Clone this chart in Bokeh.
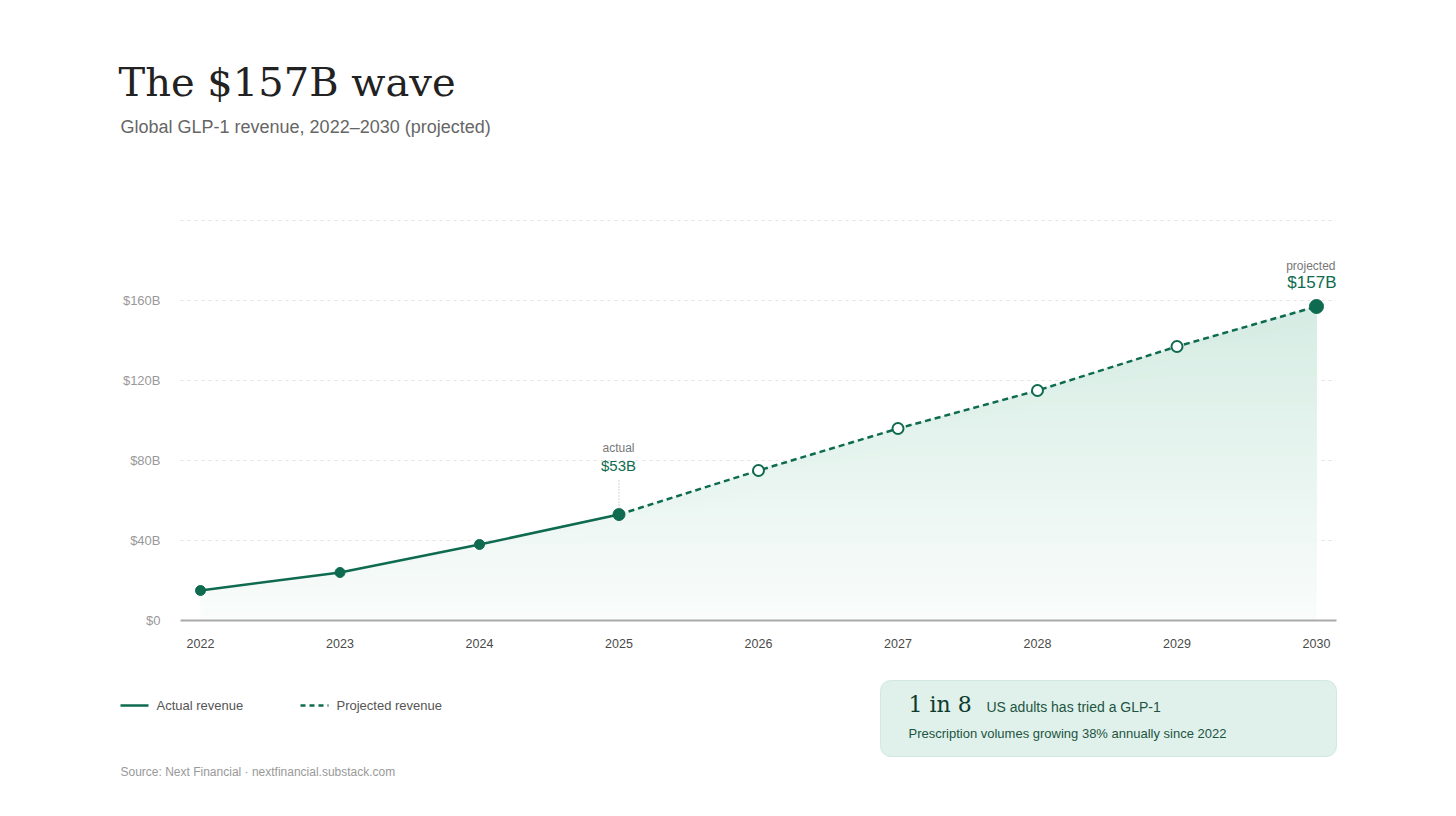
import numpy as np
from bokeh.plotting import figure
from bokeh.layouts import column, row
from bokeh.models import Range1d, FixedTicker, Label, BoxAnnotation
from bokeh.embed import file_html
from bokeh.resources import INLINE

# ---- data ----
years = [2022, 2023, 2024, 2025, 2026, 2027, 2028, 2029, 2030]
revenue = [15, 24, 38, 53, 75, 96, 115, 137, 157]
actual_years = years[:4]
actual_rev = revenue[:4]
proj_years = years[3:]
proj_rev = revenue[3:]
y_ticks = [0, 40, 80, 120, 160, 200]
y_tick_labels = {0: "$0", 40: "$40B", 80: "$80B", 120: "$120B", 160: "$160B", 200: ""}

GREEN = "#0f6b4f"
SANS = "Liberation Sans"
SERIF = "DejaVu Serif"
W = 1456


def blank_fig(top_px, bottom_px):
    f = figure(width=W, height=bottom_px - top_px, output_backend="svg",
               toolbar_location=None, x_range=Range1d(0, W),
               y_range=Range1d(bottom_px, top_px), x_axis_type=None,
               y_axis_type=None, min_border=0)
    f.outline_line_color = None
    f.grid.visible = False
    f.background_fill_color = "white"
    f.border_fill_color = "white"
    return f


def add_label(f, x, y, text, size, color, font=SANS, align="left", baseline="middle"):
    f.add_layout(Label(x=x, y=y, text=text, text_font=font, text_font_size=size,
                       text_color=color, text_align=align, text_baseline=baseline))


# ---------------- top: title ----------------
top = blank_fig(0, 200)
add_label(top, 118, 81, "The $157B wave", "40px", "#222222", font=SERIF)
add_label(top, 120, 126, "Global GLP-1 revenue, 2022\u20132030 (projected)",
          "18px", "#666666")

# ---------------- main chart ----------------
FL, FR, FT, FB = 180, 1336, 219, 620
MAIN_TOP, MAIN_BOT = 200, 670
Y_MAX = 200.5
x_pad = 20 / 139.5
x0, x1 = years[0] - x_pad, years[-1] + x_pad

p = figure(width=W, height=MAIN_BOT - MAIN_TOP, output_backend="svg",
           toolbar_location=None, x_range=Range1d(x0, x1),
           y_range=Range1d(0, Y_MAX),
           min_border_left=FL, min_border_right=W - FR,
           min_border_top=FT - MAIN_TOP, min_border_bottom=MAIN_BOT - FB)
p.outline_line_color = None
p.background_fill_color = "white"
p.border_fill_color = "white"

p.xaxis.ticker = FixedTicker(ticks=years)
p.xaxis.major_label_overrides = {y: str(y) for y in years}
p.xaxis.axis_line_color = "#aaaaaa"
p.xaxis.axis_line_width = 2
p.xaxis.major_tick_line_color = None
p.xaxis.minor_tick_line_color = None
p.xaxis.major_tick_out = 0
p.xaxis.major_tick_in = 0
p.xaxis.major_label_standoff = 18
p.xaxis.major_label_text_font = SANS
p.xaxis.major_label_text_font_size = "12.5px"
p.xaxis.major_label_text_color = "#4a4a4a"

p.yaxis.ticker = FixedTicker(ticks=y_ticks)
p.yaxis.major_label_overrides = y_tick_labels
p.yaxis.axis_line_color = None
p.yaxis.major_tick_line_color = None
p.yaxis.minor_tick_line_color = None
p.yaxis.major_tick_out = 0
p.yaxis.major_tick_in = 0
p.yaxis.major_label_standoff = 20
p.yaxis.major_label_text_font = SANS
p.yaxis.major_label_text_font_size = "13px"
p.yaxis.major_label_text_color = "#999999"

p.xgrid.grid_line_color = None
p.ygrid.grid_line_color = "#e3e3e3"
p.ygrid.grid_line_dash = "3 4"
p.ygrid.grid_line_width = 1

# gradient area: opaque bands, colour darkening toward the top
rev = np.array(revenue, dtype=float)
c_bot = np.array([249, 252, 251])
c_top = np.array([213, 236, 227])
for f in np.linspace(0, rev.max(), 36, endpoint=False):
    t = f / rev.max()
    c = np.round(c_bot + (c_top - c_bot) * t).astype(int)
    p.varea(x=years, y1=np.minimum(rev, f), y2=revenue,
            fill_color="#%02x%02x%02x" % tuple(c), fill_alpha=1)

# lines
p.line(actual_years, actual_rev, line_color=GREEN, line_width=2.5)
p.line(proj_years, proj_rev, line_color=GREEN, line_width=2.5, line_dash="6 4")

# markers
p.scatter(actual_years[:3], actual_rev[:3], size=10, fill_color=GREEN, line_color=GREEN)
p.scatter([actual_years[3]], [actual_rev[3]], size=12, fill_color=GREEN, line_color=GREEN)
p.scatter(proj_years[1:-1], proj_rev[1:-1], size=11, fill_color="white",
          line_color=GREEN, line_width=2)
p.scatter([proj_years[-1]], [proj_rev[-1]], size=14, fill_color=GREEN, line_color=GREEN)

# leader for 2025
p.segment(x0=[2025], y0=[actual_rev[3] + 3], x1=[2025], y1=[actual_rev[3] + 17],
          line_color="#aaaaaa", line_width=1, line_dash="1 2")


def px_x(px):
    return x0 + (px - FL) / (FR - FL) * (x1 - x0)


def px_y(py):
    return (FB - py) / (FB - FT) * Y_MAX


add_label(p, px_x(618), px_y(447), "actual", "12px", "#777777", align="center")
add_label(p, px_x(618), px_y(465), "$53B", "15px", GREEN, align="center")
add_label(p, px_x(1335), px_y(265), "projected", "12px", "#777777", align="right")
add_label(p, px_x(1336), px_y(282), "$157B", "17px", GREEN, align="right")

# ---------------- bottom: legend, callout, source ----------------
bot = blank_fig(MAIN_BOT, 816)
bot.segment(x0=[120], y0=[705], x1=[148], y1=[705], line_color=GREEN, line_width=2.5)
bot.segment(x0=[300], y0=[705], x1=[328], y1=[705], line_color=GREEN, line_width=2.5,
            line_dash="5 4")
add_label(bot, 156, 705, "Actual revenue", "13px", "#555555")
add_label(bot, 336, 705, "Projected revenue", "13px", "#555555")

bot.add_layout(BoxAnnotation(left=880, right=1336, top=680, bottom=756,
                             fill_color="#dff1ea", fill_alpha=1,
                             line_color="#8fc6b1", line_width=1, border_radius=10))
add_label(bot, 908, 704, "1 in 8", "22px", "#0d3b2d", font=SERIF)
add_label(bot, 986, 706, "US adults has tried a GLP-1", "14px", "#1e5442")
add_label(bot, 908, 733, "Prescription volumes growing 38% annually since 2022",
          "13px", "#1e5442")

add_label(bot, 120, 771, "Source: Next Financial \u00b7 nextfinancial.substack.com",
          "12px", "#999999")

layout = column(row(top), row(p), row(bot), spacing=0)
open("out.html", "w").write(file_html(layout, INLINE))
